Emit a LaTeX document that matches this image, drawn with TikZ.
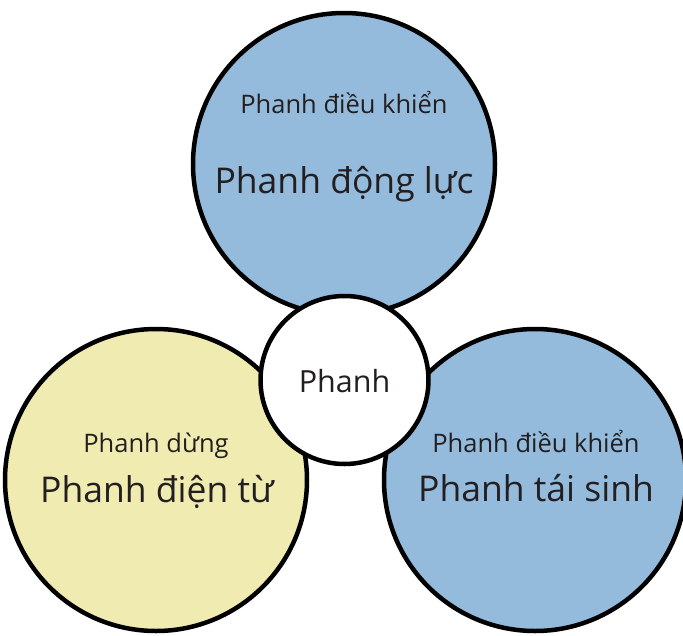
\documentclass[tikz,border=0pt]{standalone}
\usepackage{fontspec}
\setmainfont{Open Sans}
\definecolor{petalblue}{RGB}{148,186,220}
\definecolor{petalyellow}{RGB}{240,235,176}
\definecolor{inkdark}{RGB}{35,31,32}
\tikzset{
  petal/.style={circle, draw=black, line width=4.5pt, minimum size=302pt, inner sep=0pt},
  hub/.style={circle, draw=black, fill=white, line width=4.5pt, minimum size=168pt, inner sep=0pt},
  smalltxt/.style={anchor=base, inner sep=0pt, text=inkdark, font=\fontsize{25.5}{30}\selectfont},
  bigtxt/.style={anchor=base, inner sep=0pt, text=inkdark, font=\fontsize{35.5}{42}\selectfont},
  hubtxt/.style={anchor=base, inner sep=0pt, text=inkdark, font=\fontsize{30.5}{36}\selectfont}
}
\begin{document}
\begin{tikzpicture}[x=1pt, y=-1pt]
  \useasboundingbox (0,0) rectangle (683,635);
  % three outer circles
  \node[petal, fill=petalblue]   (top)   at (344,164) {};
  \node[petal, fill=petalyellow] (left)  at (156,480) {};
  \node[petal, fill=petalblue]   (right) at (535,480) {};
  % central circle drawn over them
  \node[hub] (hub) at (344.5,380) {};
  % labels
  \node[smalltxt] (topsub)   at (344,113) {Phanh điều khiển};
  \node[bigtxt]   (topmain)  at (344,193) {Phanh động lực};
  \node[smalltxt] (leftsub)  at (156,452) {Phanh dừng};
  \node[bigtxt]   (leftmain) at (157,502) {Phanh điện từ};
  \node[smalltxt] (rightsub) at (536,452) {Phanh điều khiển};
  \node[bigtxt]   (rightmain) at (536,501) {Phanh tái sinh};
  \node[hubtxt]   (hublabel) at (344.5,392) {Phanh};
\end{tikzpicture}
\end{document}
